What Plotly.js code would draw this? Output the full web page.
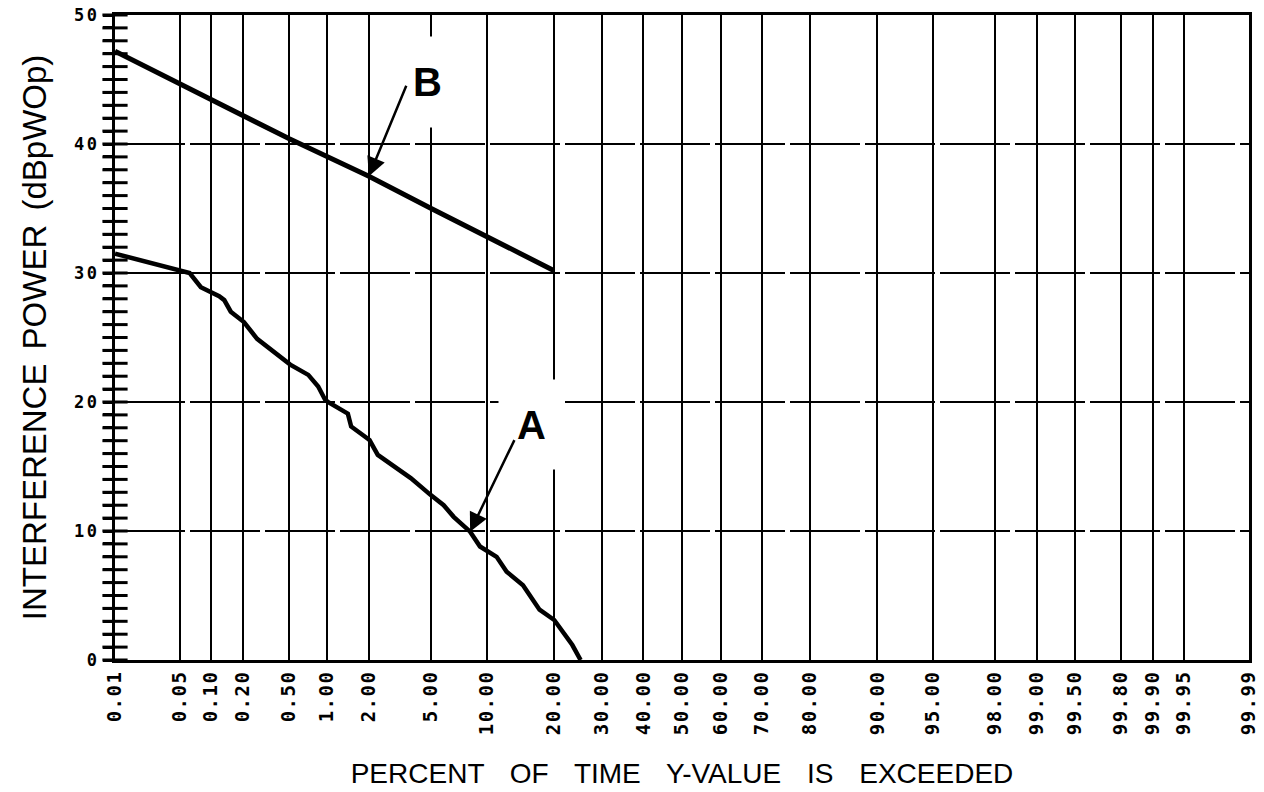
<!DOCTYPE html>
<html><head><meta charset="utf-8">
<script src="https://cdn.plot.ly/plotly-3.0.1.min.js"></script>
<style>
html,body{margin:0;padding:0;background:#fff;}
#chart{width:1264px;height:792px;}
.xtick text{letter-spacing:1.5px;}
.ytick text{letter-spacing:2.5px;}
.g-xtitle text{word-spacing:18px;}
.g-ytitle text{word-spacing:5px;}
</style>
</head><body><div id="chart"></div>
<script>
// ---- data ----
const tickPercents = [0.01,0.05,0.10,0.20,0.50,1,2,5,10,20,30,40,50,60,70,80,90,95,98,99,99.5,99.8,99.9,99.95,99.99];
const tickLabels = ["0.01","0.05","0.10","0.20","0.50","1.00","2.00","5.00","10.00","20.00","30.00","40.00","50.00","60.00","70.00","80.00","90.00","95.00","98.00","99.00","99.50","99.80","99.90","99.95","99.99"];
const yTickValues = [0,10,20,30,40,50];
const yTickLabels = ["0","10","20","30","40","50"];
const yMinorStep = 1;
const curveA_percent = [0.01,0.051,0.062,0.080,0.12,0.134,0.154,0.203,0.266,0.509,0.712,0.851,0.959,1.01,1.42,1.50,2.02,2.30,3.76,4.95,5.90,6.71,8.23,9.26,11.2,12.5,14.85,17.5,20.1,23.6,25.3];
const curveA_power   = [31.5,30.2,30.0,28.9,28.2,27.9,27.0,26.2,24.9,22.9,22.1,21.2,20.2,20.0,19.1,18.1,17.05,15.9,14.1,12.8,12.0,11.1,9.95,8.8,8.0,6.85,5.8,3.9,3.1,1.16,0.0];
const curveB_percent = [0.01,0.5,2,5,20];
const curveB_power   = [47.2,40.4,37.5,35.0,30.2];
const labelA = "A", labelB = "B";
const xTitle = "PERCENT OF TIME Y-VALUE IS EXCEEDED";
const yTitle = "INTERFERENCE POWER (dBpWOp)";

// ---- normal-probability scale (inverse normal CDF) ----
function probit(p){
  const a=[-3.969683028665376e+01,2.209460984245205e+02,-2.759285104469687e+02,1.383577518672690e+02,-3.066479806614716e+01,2.506628277459239e+00];
  const b=[-5.447609879822406e+01,1.615858368580409e+02,-1.556989798598866e+02,6.680131188771972e+01,-1.328068155288572e+01];
  const c=[-7.784894002430293e-03,-3.223964580411365e-01,-2.400758277161838e+00,-2.549671348494704e+00,4.374664141464968e+00,2.938163982698783e+00];
  const d=[7.784695709041462e-03,3.224671290700398e-01,2.445134137142996e+00,3.754408661907416e+00];
  const pl=0.02425, ph=1-pl;
  let q,r;
  if(p<pl){q=Math.sqrt(-2*Math.log(p));return (((((c[0]*q+c[1])*q+c[2])*q+c[3])*q+c[4])*q+c[5])/((((d[0]*q+d[1])*q+d[2])*q+d[3])*q+1);}
  if(p>ph){q=Math.sqrt(-2*Math.log(1-p));return -(((((c[0]*q+c[1])*q+c[2])*q+c[3])*q+c[4])*q+c[5])/((((d[0]*q+d[1])*q+d[2])*q+d[3])*q+1);}
  q=p-0.5;r=q*q;
  return (((((a[0]*r+a[1])*r+a[2])*r+a[3])*r+a[4])*r+a[5])*q/(((((b[0]*r+b[1])*r+b[2])*r+b[3])*r+b[4])*r+1);
}
const zOf = pct => probit(pct/100);

const yRange = [0,50];
const xRange = [zOf(tickPercents[0]), zOf(tickPercents[tickPercents.length-1])];
// positions of the cross-shaped axis ticks (one per unit of the value axis)
const crossTickY = [];
for (let v = yRange[0]; v <= yRange[1]; v += yMinorStep) crossTickY.push(v);

const traces = [
  {x: curveA_percent.map(zOf), y: curveA_power, mode:'lines', line:{color:'#000', width:4.5}, hoverinfo:'skip', showlegend:false},
  {x: curveB_percent.map(zOf), y: curveB_power, mode:'lines', line:{color:'#000', width:5}, hoverinfo:'skip', showlegend:false},
  // cross ticks straddling the value axis
  {x: crossTickY.map(() => xRange[0]), y: crossTickY, mode:'markers', cliponaxis:false,
   marker:{symbol:'line-ew', size:18, color:'#000', line:{color:'#000', width:3}},
   hoverinfo:'skip', showlegend:false}
];

const tickStyle = {ticklen:9, tickwidth:3, tickcolor:'#000'};
const plotW = 1264-115-15;
const layout = {
  width:1264, height:792,
  margin:{l:115, r:15, t:15, b:132},
  paper_bgcolor:'#fff', plot_bgcolor:'#fff',
  showlegend:false,
  xaxis:{
    range:xRange,
    tickmode:'array', tickvals: tickPercents.map(zOf), ticktext: tickLabels,
    tickangle:-90, ticks:'',
    tickfont:{family:'DejaVu Sans Mono', size:19, color:'#000', weight:'bold'},
    showgrid:true, gridcolor:'#000', gridwidth:2,
    showline:true, linecolor:'#000', linewidth:3, mirror:true,
    zeroline:false, fixedrange:true,
    title:{text:xTitle, font:{family:'Liberation Sans, Arial, sans-serif', size:28, color:'#000'}, standoff:30}
  },
  yaxis:Object.assign({
    range:yRange, tickmode:'array', tickvals:yTickValues, ticktext:yTickLabels,
    ticks:'outside',
    minor:Object.assign({dtick:yMinorStep, ticks:'outside', showgrid:false}, tickStyle),
    tickfont:{family:'DejaVu Sans Mono', size:17, color:'#000', weight:'bold'},
    showgrid:true, gridcolor:'#000', gridwidth:2, griddash:'70px,5px',
    showline:true, linecolor:'#000', linewidth:3, mirror:true,
    zeroline:false, fixedrange:true,
    title:{text:yTitle, font:{family:'Liberation Sans, Arial, sans-serif', size:33, color:'#000'}, standoff:18}
  }, tickStyle),
  annotations:[
    {xref:'paper', yref:'paper', x:(531.5-115)/plotW, y:(660-424.5)/645, xanchor:'center', yanchor:'middle',
     text:'<b>'+labelA+'</b>', font:{family:'Liberation Sans, Arial, sans-serif', size:40, color:'#000'},
     bgcolor:'#fff', width:61, height:85, borderpad:2, showarrow:false},
    {xref:'paper', yref:'paper', x:(427-115)/plotW, y:(660-81.7)/645, xanchor:'center', yanchor:'middle',
     text:'<b>'+labelB+'</b>', font:{family:'Liberation Sans, Arial, sans-serif', size:40, color:'#000'},
     bgcolor:'#fff', width:61, height:86, borderpad:2, showarrow:false},
    {x: zOf(curveA_percent[22]), y: curveA_power[22], text:'', showarrow:true,
     ax:45, ay:-93, arrowhead:2, arrowsize:1.5, arrowwidth:2.5, arrowcolor:'#000', standoff:0},
    {x: zOf(curveB_percent[2]), y: curveB_power[2], text:'', showarrow:true,
     ax:38, ay:-92, arrowhead:2, arrowsize:1.5, arrowwidth:2.5, arrowcolor:'#000', standoff:0}
  ]
};

Plotly.newPlot('chart', traces, layout, {staticPlot:true, displayModeBar:false});
</script>
</body></html>
